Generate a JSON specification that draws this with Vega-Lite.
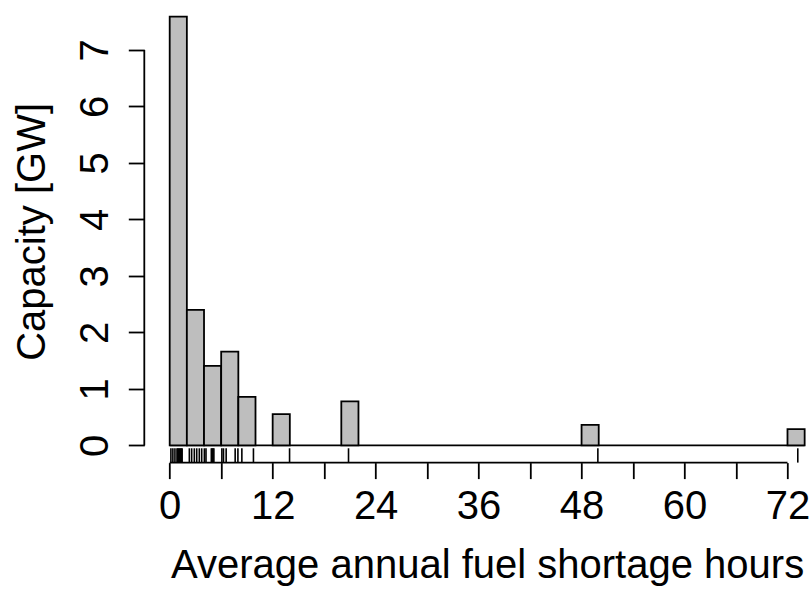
{
  "$schema": "https://vega.github.io/schema/vega-lite/v6.json",
  "width": 666.7,
  "height": 462.6,
  "autosize": {"type": "none"},
  "padding": {"left": 144.3, "top": 0, "right": 0, "bottom": 127.4},
  "background": "white",
  "config": {
    "view": {"stroke": null},
    "font": "Liberation Sans"
  },
  "datasets": {
    "bins": [
      {"lo": 0, "hi": 2, "gw": 7.59},
      {"lo": 2, "hi": 4, "gw": 2.40},
      {"lo": 4, "hi": 6, "gw": 1.41},
      {"lo": 6, "hi": 8, "gw": 1.66},
      {"lo": 8, "hi": 10, "gw": 0.86},
      {"lo": 12, "hi": 14, "gw": 0.555},
      {"lo": 20, "hi": 22, "gw": 0.78},
      {"lo": 48, "hi": 50, "gw": 0.365},
      {"lo": 72, "hi": 74, "gw": 0.29}
    ],
    "range": [{"lo": 0, "hi": 74}],
    "xline": [{"lo": 0, "hi": 72}],
    "yline": [{"lo": 0, "hi": 7}],
    "plants": [
      {"hours": 0.14}, {"hours": 0.37}, {"hours": 0.61}, {"hours": 0.85},
      {"hours": 0.95}, {"hours": 1.05}, {"hours": 1.15}, {"hours": 1.25},
      {"hours": 1.35}, {"hours": 1.45}, {"hours": 2.29}, {"hours": 2.56},
      {"hours": 2.87}, {"hours": 3.15}, {"hours": 3.45}, {"hours": 3.73},
      {"hours": 4.04}, {"hours": 4.23}, {"hours": 4.85}, {"hours": 4.95},
      {"hours": 5.05}, {"hours": 5.15}, {"hours": 6.08}, {"hours": 6.27},
      {"hours": 6.58}, {"hours": 7.63}, {"hours": 7.95}, {"hours": 8.41},
      {"hours": 9.76}, {"hours": 13.97}, {"hours": 20.84}, {"hours": 49.9},
      {"hours": 73.2}
    ]
  },
  "layer": [
    {
      "data": {"name": "range"},
      "mark": {"type": "rule", "color": "#000", "strokeWidth": 1.8},
      "encoding": {
        "x": {
          "field": "lo", "type": "quantitative",
          "scale": {"domain": [-2.96, 74.74], "nice": false, "zero": false},
          "axis": {
            "values": [0, 6, 12, 18, 24, 30, 36, 42, 48, 54, 60, 66, 72],
            "labelExpr": "datum.value % 12 == 0 ? datum.label : ''",
            "format": "d",
            "domain": false, "grid": false,
            "tickSize": 16, "tickColor": "#000", "tickWidth": 1.8,
            "labelFontSize": 40, "labelColor": "#000",
            "labelBaseline": "alphabetic", "labelPadding": 40,
            "labelFlush": false, "labelOverlap": false,
            "title": "Average annual fuel shortage hours",
            "titleFontSize": 40, "titleFontWeight": "normal", "titleColor": "#000",
            "titleBaseline": "alphabetic", "titleAlign": "center",
            "titleX": 342.8, "titleY": 114.4
          }
        },
        "x2": {"field": "hi"},
        "y": {
          "datum": 0, "type": "quantitative",
          "scale": {"domain": [-0.3036, 7.884], "nice": false, "zero": false},
          "axis": {
            "values": [0, 1, 2, 3, 4, 5, 6, 7],
            "format": "d",
            "domain": false, "grid": false,
            "tickSize": 16, "tickColor": "#000", "tickWidth": 1.8,
            "labelFontSize": 40, "labelColor": "#000",
            "labelAngle": -90, "labelAlign": "center", "labelBaseline": "alphabetic",
            "labelPadding": 21.3, "labelFlush": false, "labelOverlap": false,
            "title": "Capacity [GW]",
            "titleFontSize": 40, "titleFontWeight": "normal", "titleColor": "#000",
            "titleAngle": -90, "titleBaseline": "alphabetic", "titleAlign": "center",
            "titleX": -100.3, "titleY": 231.4
          }
        }
      }
    },
    {
      "data": {"name": "bins"},
      "mark": {"type": "rect", "fill": "#BEBEBE", "stroke": "#000", "strokeWidth": 1.8},
      "encoding": {
        "x": {"field": "lo", "type": "quantitative"},
        "x2": {"field": "hi"},
        "y": {"field": "gw", "type": "quantitative"},
        "y2": {"datum": 0}
      }
    },
    {
      "data": {"name": "plants"},
      "mark": {"type": "rule", "color": "#000", "strokeWidth": 1.6},
      "encoding": {
        "x": {"field": "hours", "type": "quantitative"},
        "y": {"datum": -0.3036, "type": "quantitative"},
        "y2": {"datum": -0.05}
      }
    },
    {
      "data": {"name": "xline"},
      "mark": {"type": "rule", "color": "#000", "strokeWidth": 1.8},
      "encoding": {
        "x": {"field": "lo", "type": "quantitative"},
        "x2": {"field": "hi"},
        "y": {"datum": -0.3036, "type": "quantitative"}
      }
    },
    {
      "data": {"name": "yline"},
      "mark": {"type": "rule", "color": "#000", "strokeWidth": 1.8},
      "encoding": {
        "x": {"datum": -2.96, "type": "quantitative"},
        "y": {"field": "lo", "type": "quantitative"},
        "y2": {"field": "hi"}
      }
    }
  ]
}
